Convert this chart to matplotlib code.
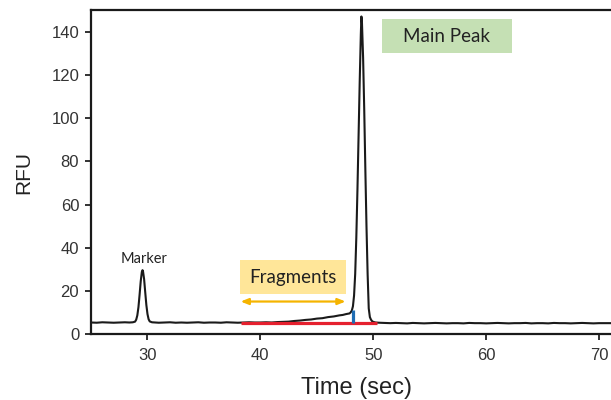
import matplotlib
matplotlib.use("Agg")
import matplotlib.pyplot as plt
from matplotlib.patches import Rectangle

# ---- data ----
time_sec = [25.0, 25.5, 26.0, 26.5, 27.0, 27.5, 28.0, 28.4, 28.7, 28.9,
            29.0, 29.1, 29.2, 29.3, 29.4, 29.5, 29.56, 29.6, 29.7, 29.8,
            29.9, 30.0, 30.1, 30.2, 30.4, 30.7, 31.0, 31.5, 32.0, 32.5,
            33.0, 33.5, 34.0, 34.5, 35.0, 35.5, 36.0, 36.5, 37.0, 37.5,
            38.0, 38.5, 39.0, 39.5, 40.0, 40.5, 41.0, 41.5, 42.0, 42.5,
            43.0, 43.5, 44.0, 44.5, 45.0, 45.5, 46.0, 46.5, 47.0, 47.3,
            47.6, 47.9, 48.0, 48.1, 48.2, 48.3, 48.4, 48.5, 48.6, 48.7,
            48.8, 48.9, 48.95, 49.0, 49.1, 49.2, 49.3, 49.4, 49.5, 49.6,
            49.7, 49.8, 49.9, 50.0, 50.2, 50.5, 51.0, 51.5, 52.0, 52.5,
            53.0, 53.5, 54.0, 54.5, 55.0, 55.5, 56.0, 56.5, 57.0, 57.5,
            58.0, 58.5, 59.0, 59.5, 60.0, 60.5, 61.0, 61.5, 62.0, 62.5,
            63.0, 63.5, 64.0, 64.5, 65.0, 65.5, 66.0, 66.5, 67.0, 67.5,
            68.0, 68.5, 69.0, 69.5, 70.0, 70.5, 71.0]
rfu = [5.5, 5.4, 5.6, 5.5, 5.4, 5.5, 5.6, 5.5, 5.6, 5.9,
       6.8, 8.8, 12.6, 18.3, 24.5, 28.9, 29.7, 29.3, 25.6, 19.5,
       13.6, 9.4, 7.0, 6.0, 5.6, 5.5, 5.4, 5.5, 5.6, 5.4,
       5.5, 5.4, 5.5, 5.6, 5.4, 5.5, 5.5, 5.4, 5.6, 5.5,
       5.4, 5.5, 5.6, 5.5, 5.5, 5.6, 5.5, 5.7, 5.8, 5.9,
       6.2, 6.4, 6.7, 6.9, 7.3, 7.5, 8.0, 8.3, 8.8, 9.0,
       9.4, 9.7, 10.2, 11.0, 13.0, 18.0, 28.0, 45.0, 67.0, 92.0,
       117.0, 139.0, 147.0, 144.0, 128.0, 104.0, 76.0, 50.0, 28.0, 12.0,
       8.0, 6.8, 6.1, 5.8, 5.5, 5.4, 5.3, 5.2, 5.3, 5.2,
       5.1, 5.3, 5.2, 5.1, 5.2, 5.3, 5.2, 5.1, 5.2, 5.2,
       5.1, 5.3, 5.2, 5.2, 5.1, 5.2, 5.3, 5.2, 5.1, 5.2,
       5.2, 5.3, 5.1, 5.2, 5.2, 5.1, 5.3, 5.2, 5.2, 5.1,
       5.2, 5.3, 5.2, 5.1, 5.2, 5.2, 5.2]

x_ticks = [30, 40, 50, 60, 70]
y_ticks = [0, 20, 40, 60, 80, 100, 120, 140]

marker_label = "Marker"
marker_pos = (29.67, 34.7)

fragment_range = (38.25, 50.33)   # red integration bar
fragment_level = 5.1
fragment_cut = (48.21, 5.4, 11.5)   # blue boundary: x, y0, y1
arrow_range = (38.25, 47.55)
arrow_level = 15.2

frag_box = (38.19, 18.5, 47.6, 34.3)     # x0, y0, x1, y1
main_box = (50.78, 129.9, 62.27, 145.7)

# ---- figure ----
fig = plt.figure(figsize=(6.11, 4.0), dpi=100)
ax = fig.add_axes([0.149, 0.164, 0.851, 0.811])

ax.plot(time_sec, rfu, color="#1a1a1a", lw=1.5, zorder=3, solid_joinstyle="round")

ax.plot(fragment_range, [fragment_level, fragment_level], color="#e5202e", lw=2.3, zorder=4,
        solid_capstyle="butt")
ax.plot([fragment_cut[0], fragment_cut[0]], [fragment_cut[1], fragment_cut[2]],
        color="#1f6db3", lw=2.3, zorder=5, solid_capstyle="butt")

ax.annotate("", xy=(arrow_range[1], arrow_level), xytext=(arrow_range[0], arrow_level),
            arrowprops=dict(arrowstyle="<|-|>,head_length=0.45,head_width=0.18",
                            color="#f5b400", lw=1.6, shrinkA=0, shrinkB=0))

ax.add_patch(Rectangle((frag_box[0], frag_box[1]), frag_box[2] - frag_box[0],
                       frag_box[3] - frag_box[1], facecolor="#ffe699", edgecolor="none", zorder=2))
ax.text((frag_box[0] + frag_box[2]) / 2, (frag_box[1] + frag_box[3]) / 2, "Fragments",
        ha="center", va="center", fontsize=13.5, family="Lato", color="#222222", zorder=6)

ax.add_patch(Rectangle((main_box[0], main_box[1]), main_box[2] - main_box[0],
                       main_box[3] - main_box[1], facecolor="#c5e0b4", edgecolor="none", zorder=2))
ax.text((main_box[0] + main_box[2]) / 2, (main_box[1] + main_box[3]) / 2, "Main Peak",
        ha="center", va="center", fontsize=13.5, family="Lato", color="#222222", zorder=6)

ax.text(marker_pos[0], marker_pos[1], marker_label, ha="center", va="center",
        fontsize=10.5, family="Lato", color="#222222")

ax.set_xlim(25, 71.06)
ax.set_ylim(0, 150)
ax.set_xticks(x_ticks)
ax.set_yticks(y_ticks)
for lab in ax.get_xticklabels() + ax.get_yticklabels():
    lab.set_family("Liberation Sans")
ax.tick_params(direction="out", length=4.5, width=1.3, labelsize=12, colors="#222222",
               labelcolor="#333333")
ax.tick_params(axis="x", pad=5)
ax.tick_params(axis="y", pad=4)
for s in ["left", "bottom", "top"]:
    ax.spines[s].set_linewidth(1.6)
    ax.spines[s].set_color("#1a1a1a")
ax.spines["right"].set_visible(False)

fig.text(0.583, 0.058, "Time (sec)", ha="center", va="top", fontsize=17,
         family="Liberation Sans", color="#222222")
fig.text(0.039, 0.57, "RFU", ha="center", va="center", rotation=90, fontsize=15,
         family="Liberation Sans", color="#222222")

fig.savefig("out.png", dpi=100)
